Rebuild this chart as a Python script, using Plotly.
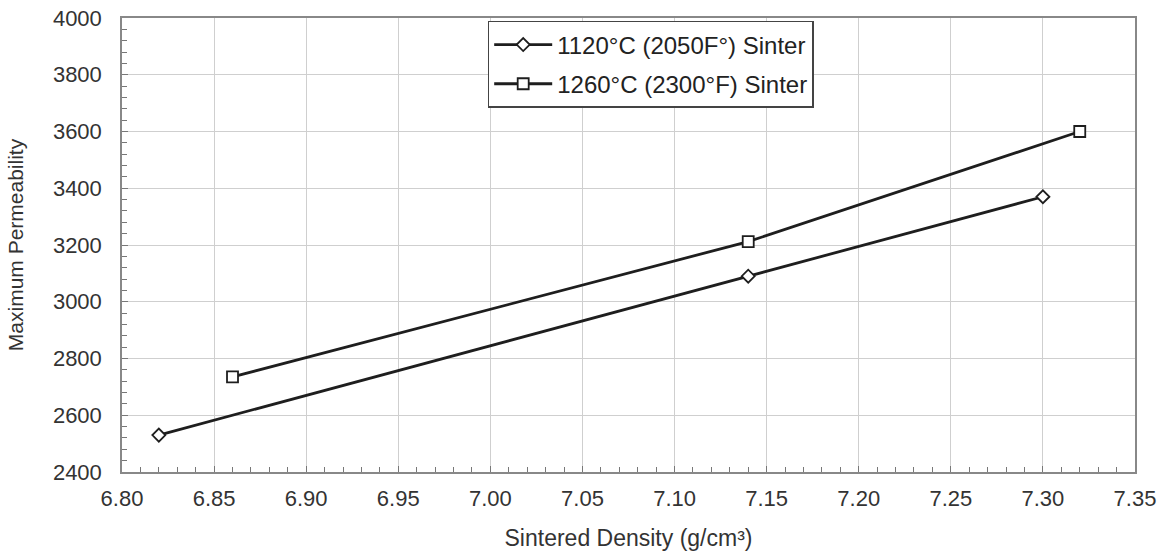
import plotly.graph_objects as go

x_1120 = [6.82, 7.14, 7.30]
y_1120 = [2530, 3090, 3370]
x_1260 = [6.86, 7.14, 7.32]
y_1260 = [2735, 3212, 3600]
name_1120 = "1120°C (2050F°) Sinter"
name_1260 = "1260°C (2300°F) Sinter"
x_ticks = [6.80, 6.85, 6.90, 6.95, 7.00, 7.05, 7.10, 7.15, 7.20, 7.25, 7.30, 7.35]
y_ticks = [2400, 2600, 2800, 3000, 3200, 3400, 3600, 3800, 4000]

FONT = "Liberation Sans, Arial, sans-serif"
fig = go.Figure()
fig.add_trace(go.Scatter(
    x=x_1120, y=y_1120, name=name_1120, mode="lines+markers", legendgroup="a",
    line=dict(color="#1e1e1e", width=2.8),
    marker=dict(symbol="diamond", size=10, color="white",
                line=dict(color="#1e1e1e", width=1.8)),
))
fig.add_trace(go.Scatter(
    x=x_1260, y=y_1260, name=name_1260, mode="lines+markers", legendgroup="b",
    line=dict(color="#1e1e1e", width=2.8),
    marker=dict(symbol="square", size=11, color="white",
                line=dict(color="#1e1e1e", width=1.8)),
))

fig.update_layout(
    width=1165, height=554,
    margin=dict(l=122, r=30, t=18, b=82, autoexpand=False),
    paper_bgcolor="white", plot_bgcolor="white",
    font=dict(family=FONT, size=22, color="#333333"),
    showlegend=True,
    legend=dict(x=0.361, y=0.9935, xanchor="left", yanchor="top",
                bordercolor="#444444", borderwidth=1.5, bgcolor="white",
                font=dict(family=FONT, size=24, color="#222222"),
                itemwidth=58, tracegroupgap=5),
    xaxis=dict(
        range=[6.80, 7.35], tickvals=x_ticks,
        ticktext=[f"{v:.2f}" for v in x_ticks],
        showgrid=True, gridcolor="#cfcfcf", gridwidth=1,
        showline=True, linecolor="#888888", linewidth=1.5, mirror=True,
        ticks="inside", ticklen=6, tickcolor="#777777",
        ticklabelstandoff=6,
        minor=dict(dtick=0.01, ticks="inside", ticklen=5, tickcolor="#777777", showgrid=False),
        zeroline=False, automargin=False,
        title=dict(text="Sintered Density (g/cm³)", font=dict(size=23, color="#333333"), standoff=20),
        tickfont=dict(size=22, color="#333333"),
    ),
    yaxis=dict(
        range=[2400, 4000], tickvals=y_ticks,
        showgrid=True, gridcolor="#cfcfcf", gridwidth=1,
        showline=True, linecolor="#888888", linewidth=1.5, mirror=True,
        ticks="inside", ticklen=6, tickcolor="#777777",
        ticklabelstandoff=14,
        minor=dict(dtick=40, ticks="inside", ticklen=5, tickcolor="#777777", showgrid=False),
        zeroline=False, automargin=False,
        title=dict(text="Maximum Permeability", font=dict(size=21, color="#333333"), standoff=24),
        tickfont=dict(size=22, color="#333333"),
    ),
)

fig.write_html("out.html")
